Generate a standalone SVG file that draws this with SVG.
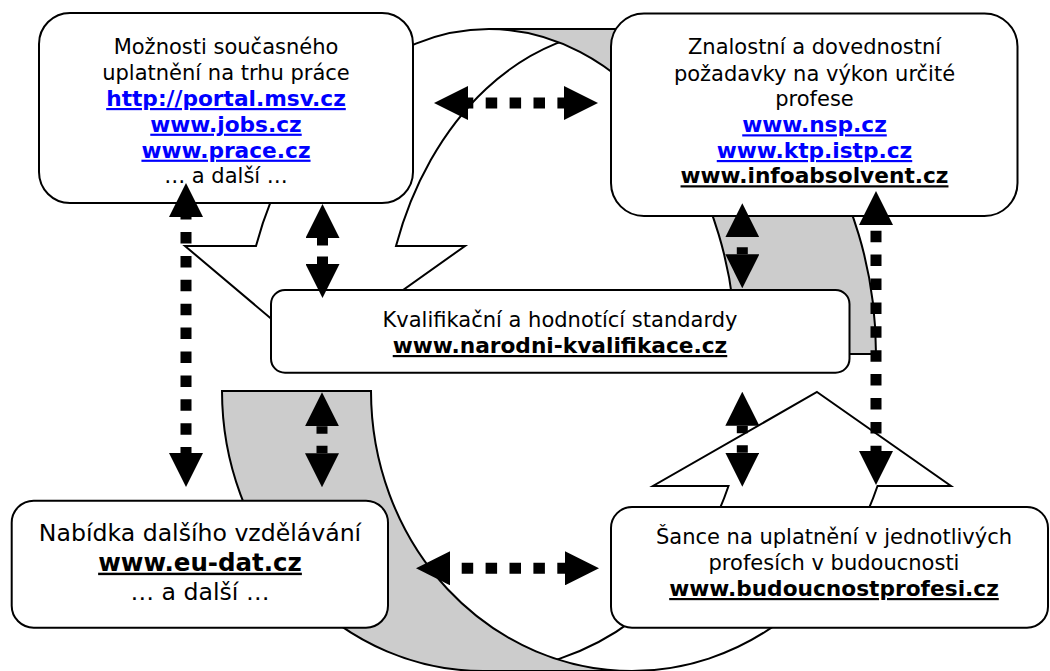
<svg xmlns="http://www.w3.org/2000/svg" width="1050" height="671" viewBox="0 0 1050 671">
<defs>
<style>
.box{fill:#fff;stroke:#000;stroke-width:2}
.front{fill:#fff;stroke:#000;stroke-width:2}
.back{fill:#ccc;stroke:#000;stroke-width:2}
text{font-family:"DejaVu Sans",Verdana,sans-serif;font-size:21px;fill:#000;text-anchor:middle}
.b{font-weight:bold;font-size:21.7px;text-decoration:underline;text-decoration-thickness:2px}
.lnk{fill:#00f}
.big{font-size:23.6px}
.bigb{font-size:24.5px}
.dl{fill:none;stroke:#000;stroke-width:11;stroke-dasharray:11.5 12.4;marker-start:url(#ah);marker-end:url(#ah)}
</style>
<marker id="ah" markerUnits="userSpaceOnUse" markerWidth="34" markerHeight="34" refX="0" refY="17" orient="auto-start-reverse" viewBox="0 0 34 34">
<path d="M0,0 L34,17 L0,34 Z" fill="#000"/>
</marker>
</defs>
<rect width="1050" height="671" fill="#fff"/>
<g id="cycle">
<path class="front" d="M313,354 L185,246 L256,246 A247,325 0 0 1 489,29 L629,29 A247,325 0 0 0 396,246 L465,246 Z"/>
<path class="back" d="M489,29 L629,29 A247,325 0 0 1 876,354 L736,354 A247,325 0 0 0 489,29 Z"/>
<path class="front" d="M817,392 L951,486 L877.5,486 A261,280 0 0 1 632,671 L483,671 A261,280 0 0 0 728.5,486 L653,486 Z"/>
<path class="back" d="M632,671 L483,671 A261,280 0 0 1 222,391 L371,391 A261,280 0 0 0 632,671 Z"/>
</g>
<g id="node-trh">
<rect class="box" x="39" y="13" width="374" height="190" rx="31"/>
<text x="226" y="54">Možnosti současného</text>
<text x="226" y="80">uplatnění na trhu práce</text>
<text class="b lnk" x="226" y="106">http://portal.msv.cz</text>
<text class="b lnk" x="226" y="131.7">www.jobs.cz</text>
<text class="b lnk" x="226" y="157.7">www.prace.cz</text>
<text x="226" y="183.3">… a další …</text>
</g>
<g id="node-pozadavky">
<rect class="box" x="611" y="13.5" width="406.5" height="202.5" rx="33"/>
<text x="814.5" y="54.3">Znalostní a dovednostní</text>
<text x="814.5" y="81">požadavky na výkon určité</text>
<text x="814.5" y="106">profese</text>
<text class="b lnk" x="814.5" y="132.3">www.nsp.cz</text>
<text class="b lnk" x="814.5" y="158">www.ktp.istp.cz</text>
<text class="b" x="814.5" y="183.3">www.infoabsolvent.cz</text>
</g>
<g id="node-standardy">
<rect class="box" x="271" y="290" width="578.5" height="82.7" rx="14"/>
<text x="560" y="326.7">Kvalifikační a hodnotící standardy</text>
<text class="b" x="560" y="353">www.narodni-kvalifikace.cz</text>
</g>
<g id="node-vzdelavani">
<rect class="box" x="11.7" y="500.7" width="376.3" height="127" rx="22"/>
<text class="big" x="200" y="540.7">Nabídka dalšího vzdělávání</text>
<text class="b bigb" x="200" y="570.7">www.eu-dat.cz</text>
<text class="big" x="200" y="600">… a další …</text>
</g>
<g id="node-sance">
<rect class="box" x="611" y="507" width="437" height="120.7" rx="21"/>
<text x="834" y="544">Šance na uplatnění v jednotlivých</text>
<text x="834" y="570">profesích v budoucnosti</text>
<text class="b" x="834" y="596">www.budoucnostprofesi.cz</text>
</g>
<g id="connectors">
<line class="dl" x1="186" y1="217" x2="186" y2="453" style="stroke-dashoffset:8.9"/>
<line class="dl" x1="468" y1="103" x2="564" y2="103" style="stroke-dashoffset:6.2"/>
<line class="dl" x1="322.5" y1="238" x2="322.5" y2="264" style="stroke-dasharray:7.5 11"/>
<line class="dl" x1="322" y1="426.3" x2="322" y2="453.3" style="stroke-dasharray:7.5 12"/>
<line class="dl" x1="742.3" y1="237.3" x2="742.3" y2="254.3" style="stroke-dasharray:0 10 7 100"/>
<line class="dl" x1="742.3" y1="425.7" x2="742.3" y2="452.7" style="stroke-dasharray:7.5 12"/>
<line class="dl" x1="876" y1="225" x2="876" y2="451" style="stroke-dashoffset:18.2"/>
<line class="dl" x1="450" y1="568.3" x2="565" y2="568.3" style="stroke-dashoffset:12.2"/>
</g>
</svg>
